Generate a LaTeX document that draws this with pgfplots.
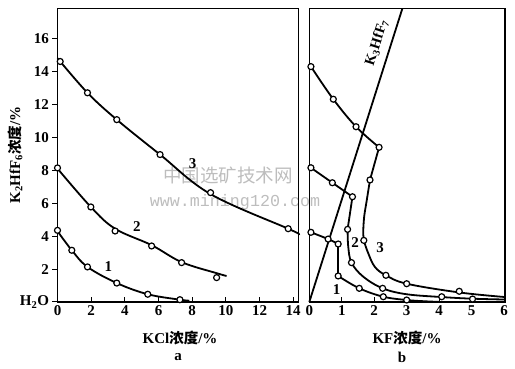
\documentclass[border=0pt]{standalone}
\usepackage{pgfplots}
\pgfplotsset{compat=1.18}
\usepackage{fontspec}
\setmainfont{Liberation Serif}
\newfontfamily\cjk{Noto Sans CJK SC}
\newfontfamily\wmono{Liberation Mono}
\definecolor{wm}{gray}{0.74}
\newcommand{\lf}{\fontsize{15}{16}\selectfont\bfseries}
\newcommand{\cf}{\fontsize{14.5}{16}\selectfont\bfseries}
\pgfplotsset{
  common/.style={
    scale only axis, anchor=south west, height=293.7pt,
    ymin=0, ymax=17.83, clip=false,
    xtick align=inside, ytick align=outside,
    xtick pos=left, ytick pos=left,
    major tick length=5pt,
    tick style={line width=1pt, black},
    axis line style={line width=1.3pt},
    tick label style={font=\lf},
    /pgf/number format/assume math mode=true,
  },
  crv/.style={black, line width=1.8pt, smooth, tension=0.6, no marks},
  seg/.style={black, line width=1.8pt, no marks},
  pts/.style={only marks, mark=*, mark size=3pt, mark options={fill=white, draw=black, line width=1.2pt}},
}
\begin{document}
\begin{tikzpicture}
\useasboundingbox (0,0) rectangle (515pt,369pt);
% watermark
\node[text=wm, font=\cjk\fontsize{18.5}{20}\selectfont] at (228pt,194pt) {中国选矿技术网};
\node[text=wm, font=\wmono\fontsize{16.7}{18}\selectfont] at (235pt,167pt) {www.mining120.com};
% ---------- panel a ----------
\begin{axis}[common, at={(57.5pt,67pt)}, width=240.8pt,
  xmin=0, xmax=14.3, xtick={0,2,...,14},
  ytick={0,2,...,16}, yticklabels={H\textsubscript{2}O,2,4,6,8,10,12,14,16}]
\addplot[crv] coordinates {(0,14.8) (1.78,12.7) (3.52,11.07) (6.09,8.95) (9.09,6.55) (13.7,4.45) (14.3,4.15)};
\addplot[crv] coordinates {(0,8.1) (1.98,5.77) (3.42,4.45) (5.59,3.45) (7.37,2.42) (9.45,1.75) (10.04,1.58)};
\addplot[crv] coordinates {(0,4.3) (0.85,3.14) (1.78,2.13) (3.52,1.15) (5.36,0.47) (7.27,0.14) (7.83,0.08)};
\addplot[pts] coordinates {(0.16,14.6) (1.78,12.7) (3.52,11.07) (6.09,8.95) (9.09,6.64) (13.7,4.45)};
\addplot[pts] coordinates {(0,8.14) (1.98,5.77) (3.42,4.31) (5.59,3.40) (7.37,2.39) (9.45,1.48)};
\addplot[pts] coordinates {(0,4.35) (0.85,3.14) (1.78,2.13) (3.52,1.15) (5.36,0.47) (7.27,0.14)};
\node[font=\lf] at (axis cs:8.03,8.38) {3};
\node[font=\lf] at (axis cs:4.71,4.57) {2};
\node[font=\lf] at (axis cs:3.02,2.14) {1};
\end{axis}
% ---------- panel b ----------
\begin{axis}[common, at={(309.3pt,67pt)}, width=195.7pt,
  xmin=0, xmax=6.03, xtick={0,...,6}, ytick=\empty]
\addplot[seg] coordinates {(0,0) (2.87,17.83)};
% curve 3
\addplot[crv] coordinates {(0.05,14.29) (0.74,12.31) (1.44,10.64) (2.15,9.39)};
\addplot[seg] coordinates {(2.15,9.39) (1.87,7.41)};
\addplot[crv] coordinates {(1.87,7.41) (1.77,6.17) (1.69,5.16) (1.66,4.15) (1.68,3.74) (1.82,2.94) (2.02,2.13) (2.36,1.62) (3.0,1.11) (4.62,0.58) (6.03,0.3)};
% curve 2
\addplot[crv] coordinates {(0.05,8.15) (0.71,7.24) (1.33,6.39)};
\addplot[seg] coordinates {(1.33,6.39) (1.18,4.41)};
\addplot[crv] coordinates {(1.18,4.41) (1.20,3.36) (1.30,2.39) (1.66,1.54) (2.26,0.83) (3.0,0.47) (4.08,0.30) (5.03,0.2) (6.03,0.15)};
% curve 1
\addplot[crv] coordinates {(0.05,4.23) (0.58,3.82) (0.89,3.52)};
\addplot[seg] coordinates {(0.89,3.52) (0.89,1.58)};
\addplot[crv] coordinates {(0.89,1.58) (1.54,0.83) (2.28,0.32) (3.0,0.12) (3.6,0.04) (4.1,0.0)};
\addplot[pts] coordinates {(0.05,14.29) (0.74,12.31) (1.44,10.64) (2.15,9.39) (1.87,7.41) (1.68,3.74) (2.36,1.62) (3.0,1.11) (4.62,0.65)};
\addplot[pts] coordinates {(0.05,8.15) (0.71,7.24) (1.33,6.39) (1.18,4.41) (1.30,2.39) (2.26,0.83) (4.08,0.32) (5.03,0.18)};
\addplot[pts] coordinates {(0.05,4.23) (0.58,3.82) (0.89,3.52) (0.89,1.58) (1.54,0.83) (2.28,0.32) (3.0,0.12)};
\node[font=\lf] at (axis cs:0.84,0.77) {1};
\node[font=\lf] at (axis cs:1.41,3.58) {2};
\node[font=\lf] at (axis cs:2.18,3.28) {3};
\node[font=\cf, rotate=72.4, inner sep=0pt] at (axis cs:2.08,15.75) {K$_{\mathbf 3}$HfF$_{\mathbf 7}$};
\end{axis}
% labels
\node[font=\lf] at (180pt,31pt) {KCl{\cjk\cf 浓度}/\%};
\node[font=\lf] at (178pt,12pt) {a};
\node[font=\lf] at (407pt,31pt) {KF{\cjk\cf 浓度}/\%};
\node[font=\lf] at (402pt,12pt) {b};
\node[font=\lf, rotate=90] at (15pt,214pt) {K\textsubscript{2}HfF\textsubscript{6}{\cjk\cf 浓度}/\%};
\end{tikzpicture}
\end{document}
